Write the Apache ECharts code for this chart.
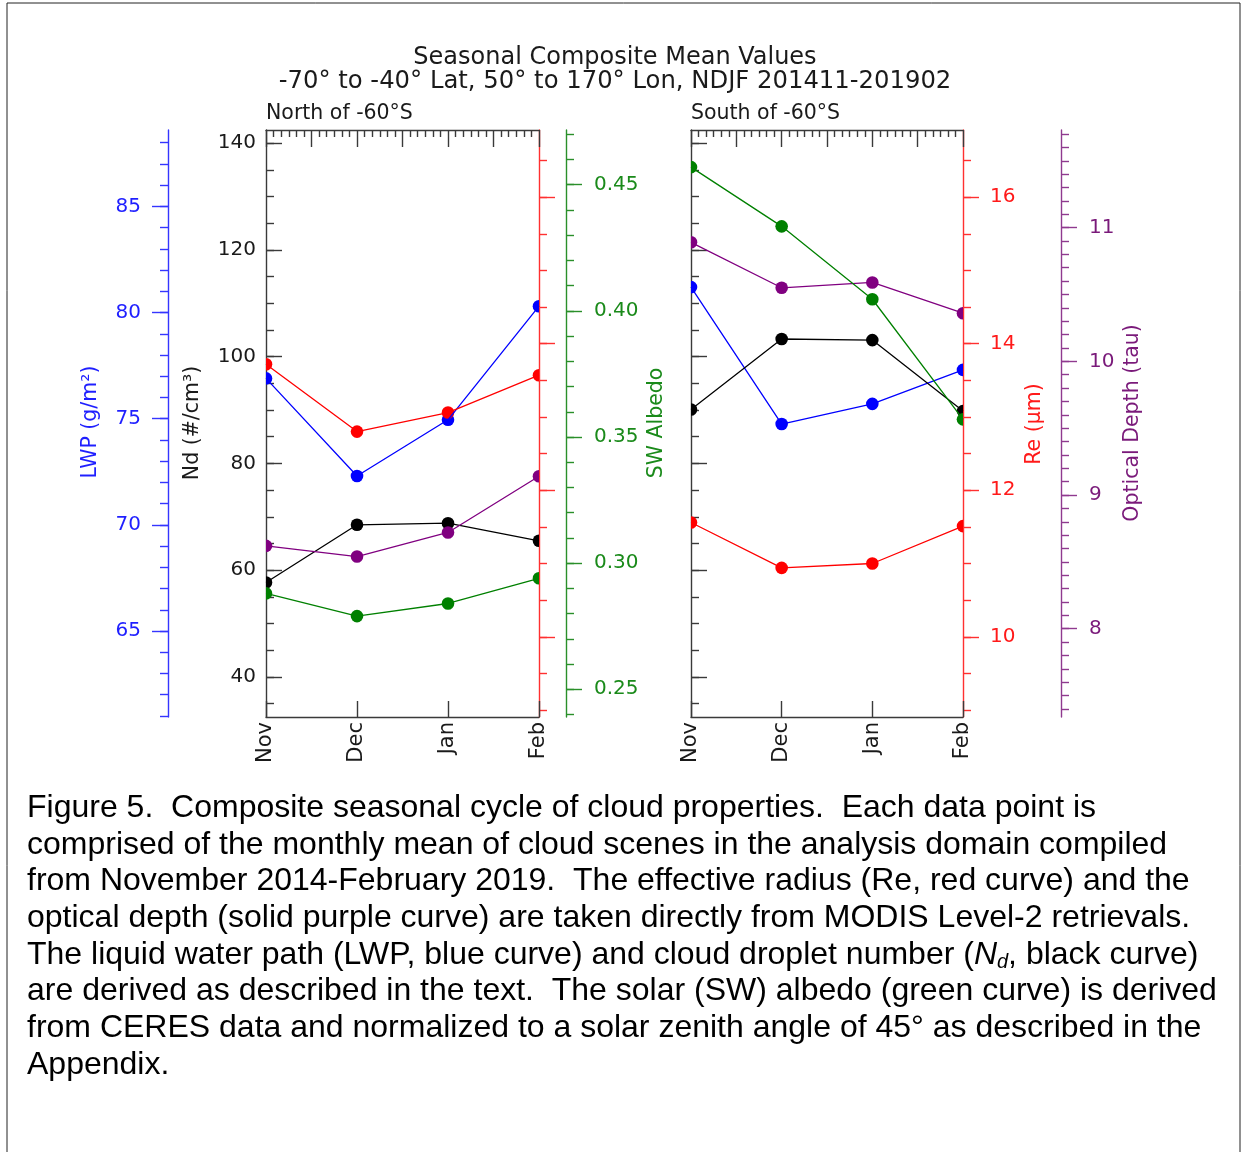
<!DOCTYPE html>
<html>
<head>
<meta charset="utf-8">
<script src="https://cdn.jsdelivr.net/npm/echarts@6/dist/echarts.min.js"></script>
<style>
html,body{margin:0;padding:0;background:#fff;}
#chart{width:1244px;height:1152px;}
</style>
</head>
<body>
<div id="chart"></div>
<script>
// ---- data ----
const months = ['Nov', 'Dec', 'Jan', 'Feb'];
// North of -60S
const lwpN = [76.9, 72.3, 74.95, 80.3];
const reN  = [13.72, 12.80, 13.06, 13.57];
const ndN  = [57.7, 68.5, 68.8, 65.5];
const tauN = [8.62, 8.54, 8.72, 9.14];
const albN = [0.288, 0.279, 0.284, 0.294];
// South of -60S
const lwpS = [81.2, 74.75, 75.7, 77.3];
const reS  = [11.56, 10.94, 11.0, 11.51];
const ndS  = [90.1, 103.3, 103.1, 89.8];
const tauS = [10.89, 10.55, 10.59, 10.36];
const albS = [0.457, 0.4335, 0.4046, 0.357];
// tick labels
const ndTicks  = [40, 60, 80, 100, 120, 140];
const lwpTicks = [65, 70, 75, 80, 85];
const reTicks  = [10, 12, 14, 16];
const albTicks = [0.25, 0.30, 0.35, 0.40, 0.45];
const tauTicks = [8, 9, 10, 11];

// ---- style ----
const FONT = 'DejaVu Sans';
const TICKFS = 20;
const C = {lwp:'#0000ff', re:'#ff0000', nd:'#000000', tau:'#800080', alb:'#008000'};
const AX = {lwp:'#3535ff', re:'#ff3030', nd:'#3a3a3a', tau:'#8f3a8f', alb:'#2a8f2a'};
const LBL = {lwp:'#1f1fff', re:'#ff1a1a', nd:'#1a1a1a', tau:'#7a1a7a', alb:'#1a8a1a'};
const RANGE = {nd:[32.5, 142.45], lwp:[60.95, 88.6], re:[8.905, 16.916], alb:[0.239, 0.4717], tau:[7.34, 11.73]};

function steps(a, b, s) { const r = []; for (let v = a; v <= b + 1e-9; v += s) r.push(+v.toFixed(4)); return r; }
const minor = {
  nd: steps(35, 140, 5),
  lwp: steps(61, 88, 1),
  re: steps(9, 16.5, 0.5),
  alb: steps(0.24, 0.47, 0.01),
  tau: steps(7.4, 11.7, 0.1)
};

function yAx(grid, key, pos, offset, opts) {
  const inside = !!opts.inside;
  const base = {
    type: 'value', gridIndex: grid, position: pos, offset: offset,
    min: RANGE[key][0], max: RANGE[key][1], scale: true,
    splitLine: {show: false}
  };
  if (opts.hidden) return Object.assign(base, {show: false});
  const major = Object.assign({}, base, {
    axisLine: {show: true, lineStyle: {color: AX[key], width: 1.4}},
    axisTick: {show: true, inside: inside, length: 16, customValues: opts.ticks, lineStyle: {color: AX[key], width: 1.4}},
    axisLabel: {show: !!opts.labels, customValues: opts.ticks, margin: opts.margin || 10,
      color: LBL[key], fontFamily: FONT, fontSize: TICKFS,
      formatter: opts.fmt || (v => String(v))}
  });
  const mnr = Object.assign({}, base, {
    axisLine: {show: false},
    axisTick: {show: true, inside: inside, length: 8, customValues: minor[key], lineStyle: {color: AX[key], width: 1.4}},
    axisLabel: {show: false}
  });
  return [major, mnr];
}

const yAxes = [];
const idx = {};
function push(name, a) { if (Array.isArray(a)) { idx[name] = yAxes.length; yAxes.push(a[0], a[1]); } else { idx[name] = yAxes.length; yAxes.push(a); } }
// grid 0 (North)
push('nd0', yAx(0, 'nd', 'left', 0, {inside: true, ticks: ndTicks, labels: true, margin: 10}));
push('lwp0', yAx(0, 'lwp', 'left', 98, {ticks: lwpTicks, labels: true, margin: 27}));
push('re0', yAx(0, 're', 'right', 0, {ticks: reTicks, labels: false}));
push('alb0', yAx(0, 'alb', 'right', 27, {ticks: albTicks, labels: true, margin: 28, fmt: v => v.toFixed(2)}));
push('tau0', yAx(0, 'tau', 'right', 0, {hidden: true}));
// grid 1 (South)
push('nd1', yAx(1, 'nd', 'left', 0, {inside: true, ticks: ndTicks, labels: false}));
push('re1', yAx(1, 're', 'right', 0, {ticks: reTicks, labels: true, margin: 27}));
push('tau1', yAx(1, 'tau', 'right', 98, {ticks: tauTicks, labels: true, margin: 28}));
push('lwp1', yAx(1, 'lwp', 'left', 0, {hidden: true}));
push('alb1', yAx(1, 'alb', 'right', 0, {hidden: true}));

function xAxes(grid) {
  return [
    {type: 'category', gridIndex: grid, position: 'bottom', data: months, boundaryGap: false,
     axisLine: {lineStyle: {color: AX.nd, width: 1.4}},
     axisTick: {inside: true, length: 16, lineStyle: {color: AX.nd, width: 1.4}},
     axisLabel: {rotate: 90, margin: 5, color: LBL.nd, fontFamily: FONT, fontSize: 21, interval: 0},
     splitLine: {show: false}},
    {type: 'value', gridIndex: grid, position: 'top', min: 0, max: 3, interval: 0.5,
     axisLine: {lineStyle: {color: AX.nd, width: 1.4}},
     axisTick: {inside: true, length: 17, lineStyle: {color: AX.nd, width: 1.4}},
     minorTick: {show: true, splitNumber: 6, length: 7, lineStyle: {color: AX.nd, width: 1.4}},
     axisLabel: {show: false}, splitLine: {show: false}, minorSplitLine: {show: false}}
  ];
}

const series = [];
function addSeries(xi, yi, vals, color) {
  series.push({type: 'line', xAxisIndex: xi, yAxisIndex: yi, data: vals, symbol: 'none',
    lineStyle: {color: color, width: 1.3}, itemStyle: {color: color}, silent: true});
  series.push({type: 'custom', xAxisIndex: xi, yAxisIndex: yi, clip: true,
    data: vals.map((v, i) => [i, v]), encode: {x: 0, y: 1},
    renderItem: function (params, api) {
      const p = api.coord([api.value(0), api.value(1)]);
      return {type: 'circle', shape: {cx: p[0], cy: p[1], r: 6.3}, style: {fill: color}};
    }});
}
// North: order blue, black, red, purple, green
addSeries(0, idx.lwp0, lwpN, C.lwp);
addSeries(0, idx.nd0, ndN, C.nd);
addSeries(0, idx.re0, reN, C.re);
addSeries(0, idx.tau0, tauN, C.tau);
addSeries(0, idx.alb0, albN, C.alb);
// South
addSeries(2, idx.lwp1, lwpS, C.lwp);
addSeries(2, idx.nd1, ndS, C.nd);
addSeries(2, idx.re1, reS, C.re);
addSeries(2, idx.tau1, tauS, C.tau);
addSeries(2, idx.alb1, albS, C.alb);

function vtext(x, y, text, color) {
  return {type: 'text', x: x, y: y, rotation: Math.PI / 2,
    style: {text: text, fill: color, font: '20.5px "' + FONT + '"', align: 'center', verticalAlign: 'middle'}};
}
function htext(x, y, text, size, align, family, fill) {
  return {type: 'text', x: x, y: y,
    style: {text: text, fill: fill || '#1a1a1a', font: size + 'px "' + family + '"', align: align, verticalAlign: 'middle'}};
}

const capFont = 'Liberation Sans';
const capSize = 32;
const capLines = [
  'Figure 5.  Composite seasonal cycle of cloud properties.  Each data point is',
  'comprised of the monthly mean of cloud scenes in the analysis domain compiled',
  'from November 2014-February 2019.  The effective radius (Re, red curve) and the',
  'optical depth (solid purple curve) are taken directly from MODIS Level-2 retrievals.',
  null,
  'are derived as described in the text.  The solar (SW) albedo (green curve) is derived',
  'from CERES data and normalized to a solar zenith angle of 45\u00b0 as described in the',
  'Appendix.'
];
const capY0 = 808, capDY = 36.7;
const graphics = [
  {type: 'rect', shape: {x: 7, y: 3, width: 1233, height: 1170}, style: {fill: 'none', stroke: '#222', lineWidth: 1}},
  htext(615, 58, 'Seasonal Composite Mean Values', 24, 'center', FONT),
  htext(615, 82, '-70\u00b0 to -40\u00b0 Lat, 50\u00b0 to 170\u00b0 Lon, NDJF 201411-201902', 24.3, 'center', FONT),
  htext(266, 114, 'North of -60\u00b0S', 20.5, 'left', FONT),
  htext(691, 114, 'South of -60\u00b0S', 20.5, 'left', FONT),
  vtext(91, 422, 'LWP (g/m\u00b2)', LBL.lwp),
  vtext(193, 423, 'Nd (#/cm\u00b3)', LBL.nd),
  vtext(657, 423, 'SW Albedo', LBL.alb),
  vtext(1035, 424, 'Re (\u03bcm)', LBL.re),
  vtext(1133, 423, 'Optical Depth (tau)', LBL.tau)
];
capLines.forEach((t, i) => {
  if (t === null) {
    graphics.push({type: 'text', x: 27, y: capY0 + i * capDY,
      style: {
        text: 'The liquid water path (LWP, blue curve) and cloud droplet number ({i|N}{s|d}, black curve)',
        fill: '#000', font: capSize + 'px "' + capFont + '"', align: 'left', verticalAlign: 'middle',
        rich: {
          i: {fontStyle: 'italic', fontSize: capSize, fontFamily: capFont, lineHeight: 36, verticalAlign: 'middle'},
          s: {fontStyle: 'italic', fontSize: 20, fontFamily: capFont, lineHeight: 36, verticalAlign: 'bottom'}
        }
      }});
  } else {
    graphics.push(htext(27, capY0 + i * capDY, t, capSize, 'left', capFont, '#000'));
  }
});

const option = {
  animation: false,
  backgroundColor: '#ffffff',
  grid: [
    {left: 266, top: 130, width: 273, height: 587, containLabel: false},
    {left: 691, top: 130, width: 272, height: 587, containLabel: false}
  ],
  xAxis: xAxes(0).concat(xAxes(1)),
  yAxis: yAxes,
  series: series,
  graphic: graphics
};
const chart = echarts.init(document.getElementById('chart'), null, {renderer: 'canvas'});
chart.setOption(option);
</script>
</body>
</html>
